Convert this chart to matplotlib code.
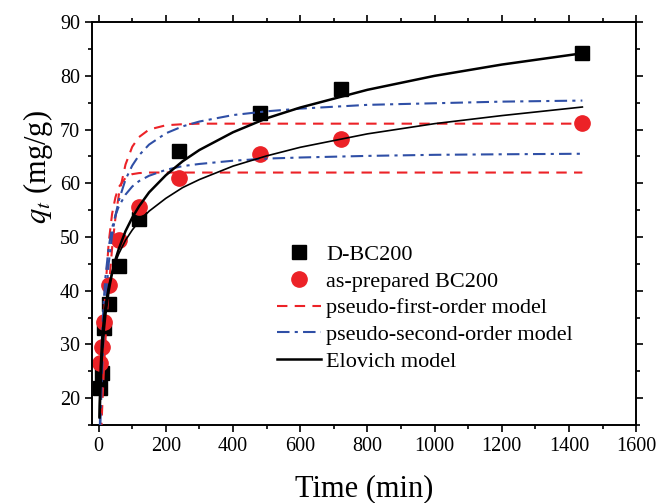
import numpy as np
import matplotlib.pyplot as plt
from matplotlib.ticker import MultipleLocator

# measured data (min, mg/g)
t_data = [5, 10, 15, 30, 60, 120, 240, 480, 720, 1440]
q_dbc = [21.9, 24.6, 33.0, 37.6, 44.6, 53.4, 66.1, 73.0, 77.5, 84.2]
q_bc = [26.6, 29.6, 34.2, 41.1, 49.5, 55.5, 60.9, 65.4, 68.2, 71.2]

# model curves, values
t_fit = [0, 5, 10, 15, 20, 30, 40, 50, 60, 80, 100, 120, 150, 200,
         250, 300, 400, 500, 600, 800, 1000, 1200, 1440]
pfo_dbc = [0, 9.3, 17.4, 24.4, 30.5, 40.4, 47.9, 53.6, 57.8, 63.5, 66.8, 68.6,
           70.0, 70.8, 71.0, 71.1, 71.1, 71.1, 71.1, 71.1, 71.1, 71.1, 71.1]
pfo_bc = [0, 14.2, 25.1, 33.6, 40.1, 49.0, 54.3, 57.4, 59.3, 61.0, 61.7, 61.9,
          62.0, 62.0, 62.0, 62.0, 62.0, 62.0, 62.0, 62.0, 62.0, 62.0, 62.0]
pso_dbc = [0, 14.8, 24.8, 32.0, 37.5, 45.1, 50.3, 54.0, 56.8, 60.7, 63.3, 65.2,
           67.2, 69.3, 70.6, 71.5, 72.7, 73.4, 73.9, 74.6, 74.9, 75.2, 75.4]
pso_bc = [0, 20.5, 31.3, 37.9, 42.4, 48.2, 51.7, 54.0, 55.7, 57.9, 59.4, 60.4,
          61.4, 62.5, 63.2, 63.6, 64.2, 64.6, 64.8, 65.1, 65.3, 65.4, 65.5]

t_elo_dbc = [3, 5, 10, 15, 20, 30, 40, 50, 60, 80, 100, 120, 150, 200,
             250, 300, 400, 500, 600, 800, 1000, 1200, 1440]
elo_dbc = [16.4, 21.1, 28.1, 32.4, 35.5, 40.0, 43.3, 45.8, 47.8, 51.1, 53.6, 55.7,
           58.3, 61.5, 64.1, 66.2, 69.5, 72.1, 74.1, 77.4, 80.0, 82.1, 84.2]
t_elo_bc = [1.5, 2, 5, 10, 15, 20, 30, 40, 50, 60, 80, 100, 120, 150, 200,
            250, 300, 400, 500, 600, 800, 1000, 1200, 1440]
elo_bc = [16.5, 18.7, 25.9, 31.7, 35.1, 37.5, 41.0, 43.4, 45.3, 46.9, 49.4, 51.3,
          52.9, 54.8, 57.2, 59.2, 60.7, 63.2, 65.1, 66.7, 69.2, 71.1, 72.6, 74.2]

RED = '#ec2227'
BLUE = '#2f4fa6'

plt.rcParams['font.family'] = 'Liberation Serif'
plt.rcParams['mathtext.fontset'] = 'stix'

fig = plt.figure(figsize=(6.71, 5.03), dpi=100)
ax = fig.add_axes([0.137, 0.155, 0.811, 0.801])

ax.plot(t_data, q_dbc, 's', color='black', ms=9.5, zorder=2, label='D-BC200')
ax.plot(t_data, q_bc, 'o', color=RED, ms=11, zorder=2.5, label='as-prepared BC200')

ax.plot(t_fit, pfo_dbc, color=RED, lw=1.5, dashes=(5, 3.5), zorder=3,
        label='pseudo-first-order model')
ax.plot(t_fit, pfo_bc, color=RED, lw=1.5, dashes=(5, 3.5), zorder=3)
ax.plot(t_fit, pso_dbc, color=BLUE, lw=1.5, dashes=(6, 2.5, 1.5, 2.5), zorder=3,
        label='pseudo-second-order model')
ax.plot(t_fit, pso_bc, color=BLUE, lw=1.5, dashes=(6, 2.5, 1.5, 2.5), zorder=3)
ax.plot(t_elo_dbc, elo_dbc, color='black', lw=1.8, zorder=3, label='Elovich model')
ax.plot(t_elo_bc, elo_bc, color='black', lw=1.2, zorder=3)

ax.set_xlim(-20, 1600)
ax.set_ylim(15, 90)
ax.xaxis.set_major_locator(MultipleLocator(200))
ax.xaxis.set_minor_locator(MultipleLocator(100))
ax.yaxis.set_major_locator(MultipleLocator(10))
ax.yaxis.set_minor_locator(MultipleLocator(5))
ax.tick_params(which='both', direction='out', top=True, right=True,
               labelsize=14.5, width=1.2)
ax.tick_params(which='major', length=5)
ax.tick_params(which='minor', length=3)
for s in ax.spines.values():
    s.set_linewidth(1.4)

ax.set_xlabel('Time (min)', fontsize=22, labelpad=13)
ax.set_ylabel(r'$q_t$ (mg/g)', fontsize=22)
ax.yaxis.set_label_coords(-0.068, 0.64)

ax.legend(loc='center left', bbox_to_anchor=(0.32, 0.29), frameon=False, fontsize=16,
          handlelength=1.95, handletextpad=0.25, labelspacing=0.28, borderpad=0)

fig.savefig('out.png', dpi=100)
